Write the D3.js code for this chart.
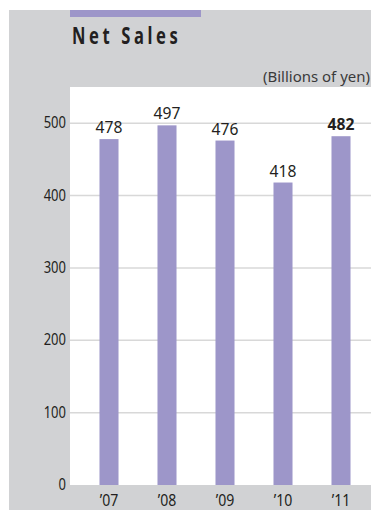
<!DOCTYPE html>
<html>
<head>
<meta charset="utf-8">
<script src="https://cdn.jsdelivr.net/npm/d3@7"></script>
<style>
  body { margin: 0; background: #fff; }
  svg { display: block; }
  text { font-family: "Noto Sans", sans-serif; fill: #231f20; }
</style>
</head>
<body>
<svg width="371" height="510"></svg>
<script>
var years = ["\u201907", "\u201908", "\u201909", "\u201910", "\u201911"];
var sales = [478, 497, 476, 418, 482];
var yTicks = [0, 100, 200, 300, 400, 500];

var svg = d3.select("svg");

// grey panel + purple tab
svg.append("rect").attr("x", 9).attr("y", 10).attr("width", 362).attr("height", 500)
  .attr("fill", "#d1d2d4");
svg.append("rect").attr("x", 70).attr("y", 10).attr("width", 131).attr("height", 7)
  .attr("fill", "#9d96c9");

// title: condensed bold, spaced out
svg.append("text").attr("transform", "translate(72,44) scale(0.72,1)")
  .style("font-weight", "bold").style("font-size", "23px").style("letter-spacing", "5px")
  .text("Net Sales");

svg.append("text").attr("x", 263).attr("y", 82)
  .attr("textLength", 107).attr("lengthAdjust", "spacingAndGlyphs")
  .style("font-size", "15px").style("fill", "#3a3a3a")
  .text("(Billions of yen)");

// plot area
var x = d3.scaleBand().domain(years).range([80, 370]).paddingInner(0.672).paddingOuter(0.336);
var y = d3.scaleLinear().domain([0, 550]).range([485, 87]);

svg.append("rect").attr("x", 70).attr("y", y(550)).attr("width", 301).attr("height", y(0) - y(550))
  .attr("fill", "#fff");

svg.append("g").selectAll("line").data(yTicks.slice(1)).enter().append("line")
  .attr("x1", 70).attr("x2", 371)
  .attr("y1", function (d) { return y(d); }).attr("y2", function (d) { return y(d); })
  .attr("stroke", "#d8d8d8").attr("stroke-width", 1.5);

svg.append("g").selectAll("text").data(yTicks).enter().append("text")
  .attr("transform", function (d) { return "translate(66," + (y(d) + 5) + ") scale(0.84,1)"; })
  .attr("text-anchor", "end").style("font-size", "15.5px")
  .text(function (d) { return d; });

svg.append("g").selectAll("rect").data(sales).enter().append("rect")
  .attr("x", function (d, i) { return x(years[i]); })
  .attr("y", function (d) { return y(d); })
  .attr("width", x.bandwidth())
  .attr("height", function (d) { return y(0) - y(d); })
  .attr("fill", "#9d96c9");

svg.append("g").selectAll("text").data(sales).enter().append("text")
  .attr("transform", function (d, i) {
    return "translate(" + (x(years[i]) + x.bandwidth() / 2) + "," + (y(d) - 6) + ") scale(0.95,1)";
  })
  .attr("text-anchor", "middle").style("font-size", "16.5px")
  .style("font-weight", function (d, i) { return i == sales.length - 1 ? "bold" : "normal"; })
  .text(function (d) { return d; });

svg.append("g").selectAll("text").data(years).enter().append("text")
  .attr("transform", function (d) {
    return "translate(" + (x(d) + x.bandwidth() / 2) + ",506) scale(0.88,1)";
  })
  .attr("text-anchor", "middle").style("font-size", "16px")
  .text(function (d) { return d; });
</script>
</body>
</html>
